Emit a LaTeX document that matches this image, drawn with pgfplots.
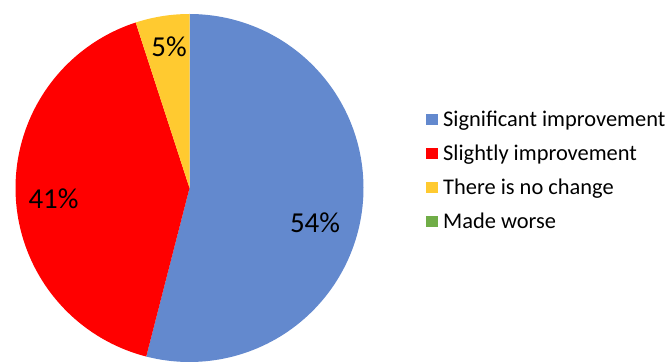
\documentclass[border=0pt]{standalone}
\usepackage{pgfplots}
\pgfplotsset{compat=1.18}
\usepackage{fontspec}
\setmainfont{Carlito}
\definecolor{cBlue}{RGB}{99,137,206}
\definecolor{cRed}{RGB}{255,0,0}
\definecolor{cYellow}{RGB}{255,202,48}
\definecolor{cGreen}{RGB}{112,173,71}
% shares in percent
\def\vA{54}\def\vB{41}\def\vC{5}\def\vD{0}
\def\cx{189.5}\def\cy{175}\def\rr{174}
\begin{document}
\begin{tikzpicture}
\begin{axis}[
  scale only axis, width=667bp, height=363bp,
  xmin=0, xmax=667, ymin=0, ymax=363,
  hide axis, clip=false,
  legend style={draw=none, fill=none, at={(axis cs:423,256)}, anchor=north west,
    font=\fontsize{22.5}{27}\selectfont, row sep=13bp,
    /tikz/every even column/.append style={column sep=5bp}},
  legend cell align=left,
  legend image code/.code={\fill[#1] (0bp,-5.5bp) rectangle (12bp,6bp); \path (15bp,0bp);},
]
\addplot[draw=none, forget plot] coordinates {(0,0) (667,363)};
\addplot[fill=cBlue, draw=none, domain=0:3.6*\vA, samples=120]
  ({\cx + \rr*sin(x)}, {\cy + \rr*cos(x)}) -- (axis cs:\cx,\cy) -- cycle;
\addlegendentry{Significant improvement}
\addplot[fill=cRed, draw=none, domain=3.6*\vA:3.6*(\vA+\vB), samples=100]
  ({\cx + \rr*sin(x)}, {\cy + \rr*cos(x)}) -- (axis cs:\cx,\cy) -- cycle;
\addlegendentry{Slightly improvement}
\addplot[fill=cYellow, draw=none, domain=3.6*(\vA+\vB):3.6*(\vA+\vB+\vC), samples=20]
  ({\cx + \rr*sin(x)}, {\cy + \rr*cos(x)}) -- (axis cs:\cx,\cy) -- cycle;
\addlegendentry{There is no change}
\addlegendimage{fill=cGreen, draw=none}
\addlegendentry{Made worse}
\node[font=\fontsize{29}{34}\selectfont] at (axis cs:315,140.5) {54\%};
\node[font=\fontsize{29}{34}\selectfont] at (axis cs:53.5,164) {41\%};
\node[font=\fontsize{29}{34}\selectfont] at (axis cs:169,316) {5\%};
\end{axis}
\pgfresetboundingbox
\path (0bp,0bp) rectangle (667bp,363bp);
\end{tikzpicture}
\end{document}
